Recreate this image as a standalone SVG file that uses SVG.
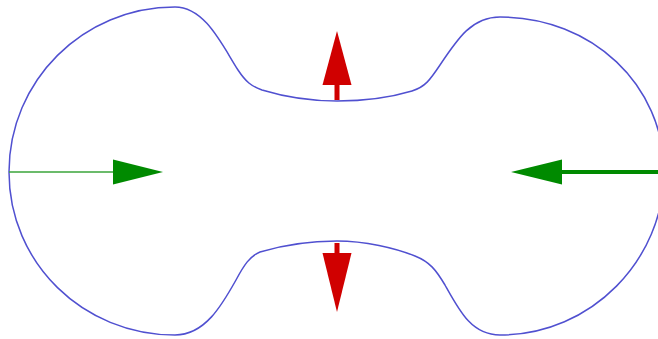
<svg xmlns="http://www.w3.org/2000/svg" width="658" height="339" viewBox="0 0 658 339">
<style>
.outline{fill:none;stroke:#5050d0;stroke-width:1.5}
.green{fill:#008a00}
.red{fill:#d00000}
</style>
<rect width="658" height="339" fill="#ffffff"/>
<g id="outline">
<path class="outline" d="M9,172 C9,81 83,7 175,7 C205,7 222,45 238,70 C246,82 251,86 262,90 C285,97 310,101 337,101 C365,101 392,97 412,91 C425,87 430,80 440,65 C458,38 472,17 500,17 C592,17 664,85 664,172 C664,259 592,335 500,335 C472,335 460,312 445,285 C436,270 430,262 415,256 C395,248 365,241 337,241 C305,241 280,246 260,252 C250,256 244,265 236,280 C222,305 205,335 175,335 C83,335 9,263 9,172 Z"/>
</g>
<g id="connectors">
<g id="arrow-left">
<line x1="9" y1="172" x2="114" y2="172" stroke="#3aa53a" stroke-width="1.6"/>
<polygon class="green" points="113,159.5 163,172 113,184.5"/>
</g>
<g id="arrow-right">
<line x1="658" y1="172" x2="560" y2="172" stroke="#008a00" stroke-width="4"/>
<polygon class="green" points="562,159.5 511,172 562,184.5"/>
</g>
<g id="arrow-up">
<rect class="red" x="334.5" y="84" width="5" height="16"/>
<polygon class="red" points="322.5,85 337,31 351.5,85"/>
</g>
<g id="arrow-down">
<rect class="red" x="334.5" y="243" width="5" height="11"/>
<polygon class="red" points="322.5,253 337,312 351.5,253"/>
</g>
</g>
</svg>
